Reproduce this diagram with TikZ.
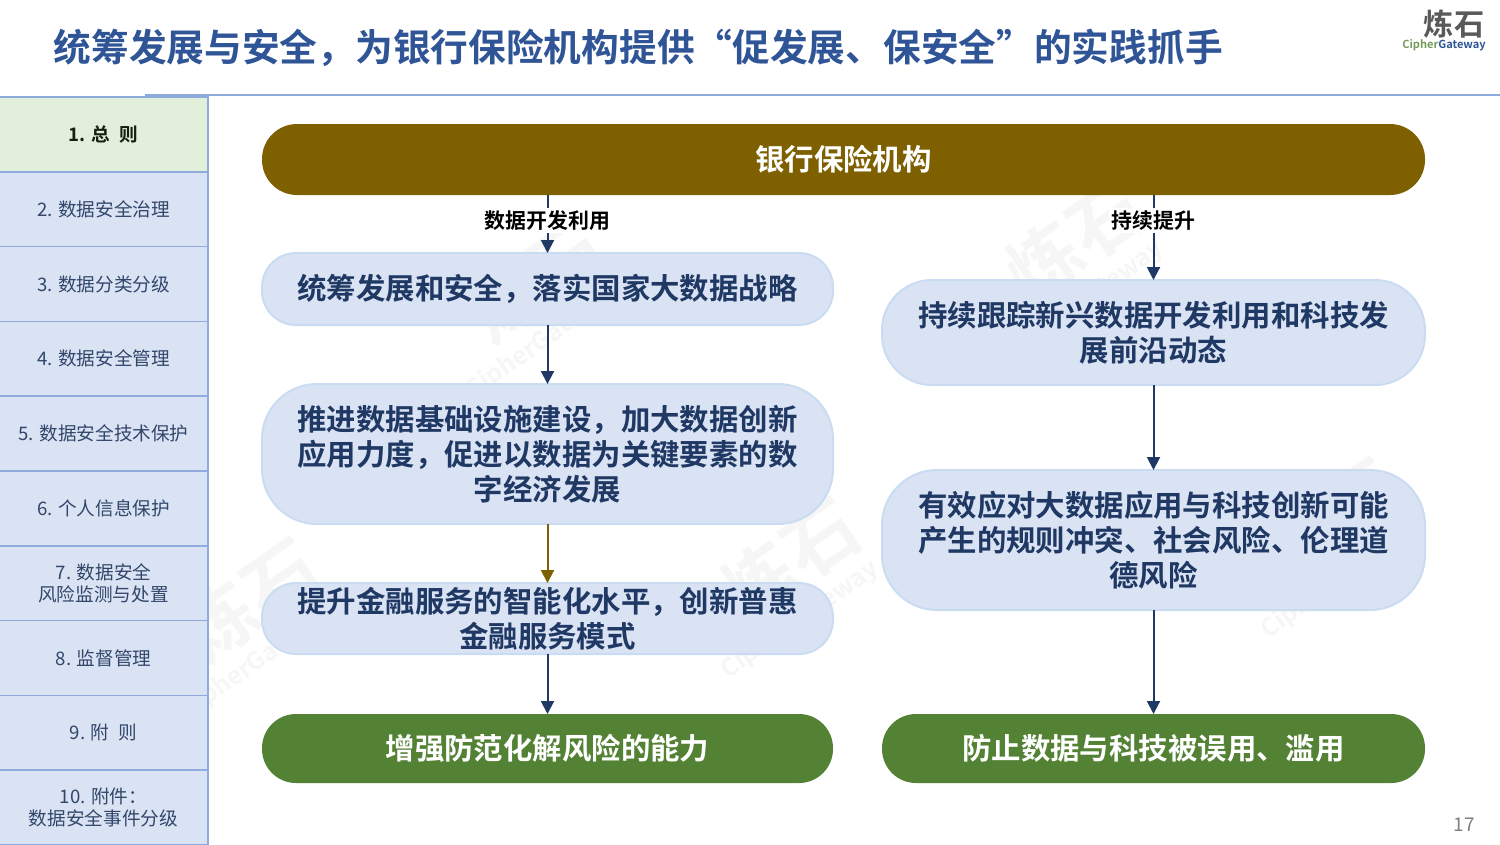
\documentclass[tikz,border=0pt]{standalone}
\usepackage{fontspec}
\setmainfont{Noto Sans CJK SC}
\setsansfont{Noto Sans CJK SC}
\newfontfamily\boldcjk{Noto Sans CJK SC Bold}
\usetikzlibrary{arrows.meta}

\definecolor{titleblue}{HTML}{2F5597}
\definecolor{navy}{HTML}{1F3864}
\definecolor{sideline}{HTML}{8FAADC}
\definecolor{paleblue}{HTML}{DAE3F3}
\definecolor{paleedge}{HTML}{C9DCF1}
\definecolor{palegreen}{HTML}{E2EFDA}
\definecolor{brown}{HTML}{7F6000}
\definecolor{leaf}{HTML}{548235}
\definecolor{marktext}{HTML}{F6F6F6}

% full-width punctuation
\newcommand{\zhcomma}{\symbol{"FF0C}}
\newcommand{\zhcolon}{\symbol{"FF1A}}

\tikzset{
    sidebox/.style={draw=sideline,line width=0.16mm,outer sep=0pt,fill=paleblue,minimum width=20.9mm,minimum height=7.48mm,inner sep=0pt,anchor=north west,align=center,text=navy!80!gray,font=\fontsize{5.3}{6.4}\selectfont},
    stepbox/.style={draw=paleedge,line width=0.2mm,outer sep=0pt,fill=paleblue,inner sep=0pt,align=center,text=navy,font=\boldcjk\fontsize{8.37}{9.95}\selectfont},
    resultbox/.style={fill=leaf,inner sep=0pt,outer sep=0pt,rounded corners=3.4mm,minimum height=6.9mm,align=center,text=white,font=\boldcjk\fontsize{8.37}{9.95}\selectfont},
    flow/.style={draw=navy,line width=0.2mm,-{Triangle[length=1.3mm,width=1.3mm]}},
    flowlabel/.style={fill=white,inner sep=0.3mm,text=black,font=\boldcjk\fontsize{5.95}{7}\selectfont},
    watermark/.style={text=marktext,font=\boldcjk\fontsize{21}{21}\selectfont,inner sep=0pt},
    markline/.style={text=marktext,font=\boldcjk\fontsize{7}{8}\selectfont,inner sep=0pt}
}

\begin{document}
\begin{tikzpicture}[x=0.1mm,y=-0.1mm]
    \useasboundingbox (0,0) rectangle (1500,844);

    % Draw the watermarks
    \foreach \n/\x/\y in {1/1075/240,2/790/560,3/250/600,4/535/280,5/1330/520}{
        \node[watermark,rotate=35] (mark\n) at (\x,\y) {炼石};
        \node[markline,rotate=35] (markline\n) at (\x+10,\y+60) {CipherGateway};
    }

    % Draw the title and the logo
    \node[anchor=west,inner sep=0pt,text=titleblue,font=\boldcjk\fontsize{10.73}{12}\selectfont] (title) at (53,48) {统筹发展与安全\zhcomma 为银行保险机构提供“促发展、保安全”的实践抓手};
    \node[inner sep=0pt,text=black!65,font=\boldcjk\fontsize{8.6}{9}\selectfont] (logo) at (1454,24) {炼石};
    \node[inner sep=0pt,font=\boldcjk\fontsize{3.15}{4}\selectfont] (logotext) at (1444,45) {\textcolor{leaf!80}{Cipher}\textcolor{titleblue}{Gateway}};
    \node[inner sep=0pt,text=black!50,font=\fontsize{5.4}{6}\selectfont] (page) at (1464,825) {17};
    \coordinate (headA) at (145,95);
    \coordinate (headB) at (1500,95);
    \draw[sideline,line width=0.16mm] (headA) -- (headB);

    % Draw the side menu
    \node[sidebox,fill=palegreen,text=black!75!leaf,font=\boldcjk\fontsize{5.3}{6.4}\selectfont] (side1) at (-1,97) {1. 总\enspace 则};
    \foreach \n/\prev/\txt in {2/1/{2. 数据安全治理},3/2/{3. 数据分类分级},4/3/{4. 数据安全管理},5/4/{5. 数据安全技术保护},6/5/{6. 个人信息保护},7/6/{7. 数据安全\\风险监测与处置},8/7/{8. 监督管理},9/8/{9. 附\enspace 则},10/9/{10. 附件\zhcolon\\数据安全事件分级}}
        \node[sidebox] (side\n) at (side\prev.south west) {\txt};

    % Draw the top box
    \node[fill=brown,rounded corners=3.5mm,minimum width=116.3mm,minimum height=7.1mm,inner sep=0pt,outer sep=0pt,text=white,font=\boldcjk\fontsize{8.37}{9.95}\selectfont] (bank) at (843.5,159.5) {银行保险机构};

    % Draw the left column
    \node[stepbox,rounded corners=3.4mm,minimum width=57.1mm,minimum height=7.2mm] (dev1) at (547.5,289) {统筹发展和安全\zhcomma 落实国家大数据战略};
    \node[stepbox,rounded corners=5.5mm,minimum width=57.1mm,minimum height=14mm] (dev2) at (547.5,454) {推进数据基础设施建设\zhcomma 加大数据创新\\应用力度\zhcomma 促进以数据为关键要素的数\\字经济发展};
    \node[stepbox,rounded corners=3.4mm,minimum width=57.1mm,minimum height=7.1mm] (dev3) at (547.5,618.5) {提升金融服务的智能化水平\zhcomma 创新普惠\\金融服务模式};
    \node[resultbox,minimum width=57.1mm] (res1) at (547.5,748.5) {增强防范化解风险的能力};

    % Draw the right column
    \node[stepbox,rounded corners=5mm,minimum width=54.3mm,minimum height=10.5mm] (keep1) at (1153.5,332.5) {持续跟踪新兴数据开发利用和科技发\\展前沿动态};
    \node[stepbox,rounded corners=5.5mm,minimum width=54.3mm,minimum height=14mm] (keep2) at (1153.5,540) {有效应对大数据应用与科技创新可能\\产生的规则冲突、社会风险、伦理道\\德风险};
    \node[resultbox,minimum width=54.3mm] (res2) at (1153.5,748.5) {防止数据与科技被误用、滥用};

    % Draw the arrows
    \draw[flow] (bank.south -| dev1.north) -- node[flowlabel,pos=0.44] (devlabel) {数据开发利用} (dev1.north);
    \draw[flow] (dev1) -- (dev2);
    \draw[flow,draw=brown] (dev2) -- (dev3);
    \draw[flow] (dev3) -- (res1);
    \draw[flow] (bank.south -| keep1.north) -- node[flowlabel,pos=0.3] (keeplabel) {持续提升} (keep1.north);
    \draw[flow] (keep1) -- (keep2);
    \draw[flow] (keep2) -- (res2);
\end{tikzpicture}
\end{document}
